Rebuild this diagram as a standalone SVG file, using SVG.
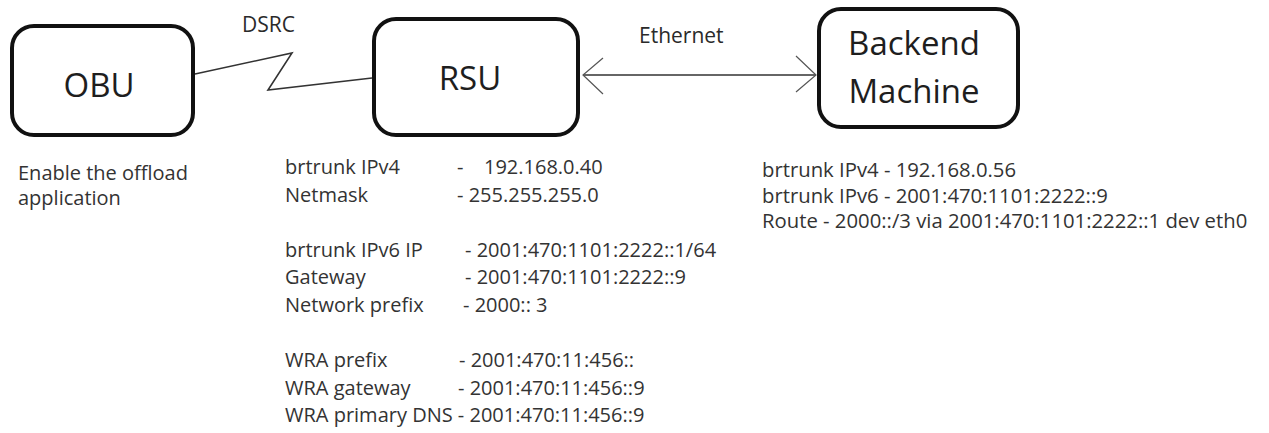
<svg xmlns="http://www.w3.org/2000/svg" width="1269" height="433" viewBox="0 0 1269 433">
<defs>
<style>
.box{fill:#fff;stroke:#111;stroke-width:4}
.big{font-family:"Open Sans","Liberation Sans",sans-serif;font-size:33px;fill:#1e1e1e;text-anchor:middle}
.lbl{font-family:"Open Sans","Liberation Sans",sans-serif;font-size:21px;fill:#2a2a2a}
.txt{font-family:"Open Sans","Liberation Sans",sans-serif;font-size:20px;fill:#333}
.wire{fill:none;stroke:#333;stroke-width:1.6}
</style>
<marker id="vhead" markerUnits="userSpaceOnUse" markerWidth="30" markerHeight="44" viewBox="-22 -22 24 44" refX="0" refY="0" orient="auto-start-reverse">
<path d="M-20,-19 L0,0 L-20,17" fill="none" stroke="#555" stroke-width="1.2"/>
</marker>
</defs>
<rect width="1269" height="433" fill="#fff"/>
<g id="connectors">
<polyline class="wire" points="195,74 292,53 268,90 372,78"/>
<line class="wire" x1="583" y1="75" x2="816" y2="75" marker-start="url(#vhead)" marker-end="url(#vhead)"/>
<text class="lbl" x="242" y="32">DSRC</text>
<text class="lbl" x="639" y="43">Ethernet</text>
</g>
<g id="obu">
<rect class="box" x="12" y="26" width="181" height="109" rx="22"/>
<text class="big" x="99" y="97">OBU</text>
</g>
<g id="rsu">
<rect class="box" x="374" y="19" width="204" height="116" rx="22"/>
<text class="big" x="470" y="90">RSU</text>
</g>
<g id="backend">
<rect class="box" x="819" y="9" width="199" height="118" rx="22"/>
<text class="big" x="914" y="55">Backend</text>
<text class="big" x="914" y="103">Machine</text>
</g>
<g id="obu-notes">
<text class="txt" x="18" y="180">Enable the offload</text>
<text class="txt" x="18" y="205">application</text>
</g>
<g id="rsu-notes">
<text class="txt" x="285" y="174">brtrunk IPv4</text>
<text class="txt" x="457" y="174">-<tspan x="484">192.168.0.40</tspan></text>
<text class="txt" x="285" y="201.6">Netmask</text>
<text class="txt" x="457" y="201.6">- 255.255.255.0</text>
<text class="txt" x="285" y="256.8">brtrunk IPv6 IP</text>
<text class="txt" x="465" y="256.8">- 2001:470:1101:2222::1/64</text>
<text class="txt" x="285" y="284.4">Gateway</text>
<text class="txt" x="465" y="284.4">- 2001:470:1101:2222::9</text>
<text class="txt" x="285" y="312">Network prefix</text>
<text class="txt" x="463" y="312">- 2000:: 3</text>
<text class="txt" x="285" y="367.2">WRA prefix</text>
<text class="txt" x="459" y="367.2">- 2001:470:11:456::</text>
<text class="txt" x="285" y="394.8">WRA gateway</text>
<text class="txt" x="458" y="394.8">- 2001:470:11:456::9</text>
<text class="txt" x="285" y="422.4">WRA primary DNS - 2001:470:11:456::9</text>
</g>
<g id="backend-notes">
<text class="txt" x="762" y="177" style="font-size:20.3px">brtrunk IPv4 - 192.168.0.56</text>
<text class="txt" x="762" y="202.5" style="font-size:20.3px">brtrunk IPv6 - 2001:470:1101:2222::9</text>
<text class="txt" x="762" y="228" style="font-size:20.3px">Route - 2000::/3 via 2001:470:1101:2222::1 dev eth0</text>
</g>
</svg>
